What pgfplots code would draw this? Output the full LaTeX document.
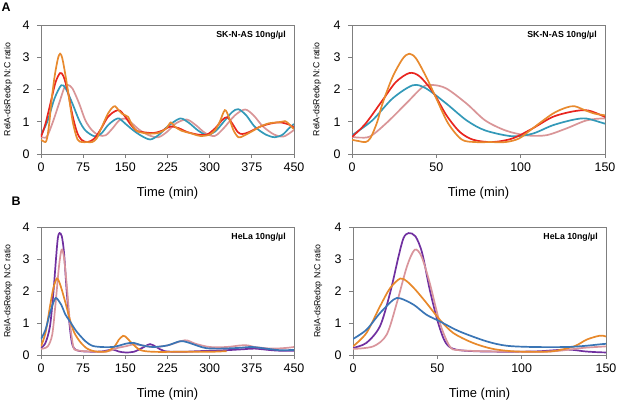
\documentclass[border=0pt]{standalone}
\usepackage{fontspec}
\setmainfont{Liberation Sans}
\usepackage{pgfplots}
\usepackage{pgfplotstable}
\pgfplotsset{compat=1.18}
\definecolor{aorange}{HTML}{E88A2E}
\definecolor{ared}{HTML}{E8251F}
\definecolor{ateal}{HTML}{3399B8}
\definecolor{apink}{HTML}{D99597}
\definecolor{bpurple}{HTML}{7030A0}
\definecolor{bpink}{HTML}{D9959C}
\definecolor{borange}{HTML}{E8892B}
\definecolor{bblue}{HTML}{3A75B5}
\definecolor{frame}{HTML}{7F7F7F}

\pgfplotstableread{
t v
0 0.44
4 0.40
8 0.37
11 0.5
15 1.0
18 1.55
24 2.38
30 2.95
34 3.11
38 2.96
44 2.39
50 1.72
57 0.95
65 0.45
73 0.37
82 0.37
91 0.37
99 0.48
107 0.79
119 1.25
127 1.44
132 1.48
138 1.36
144 1.25
150 1.2
155 1.15
162 0.9
170 0.72
180 0.66
195 0.63
210 0.66
222 0.78
231 0.98
238 0.85
250 0.72
265 0.65
283 0.56
300 0.6
310 0.75
318 1.0
327 1.36
334 1.15
342 0.75
351 0.52
360 0.56
375 0.7
390 0.85
405 0.95
420 0.98
428 1.0
434 1.02
440 0.95
448 0.8
450 0.78
}\Aorange
\pgfplotstableread{
t v
0 0.53
8 0.94
18 1.66
26 2.23
34 2.51
40 2.41
48 1.92
56 1.2
64 0.68
72 0.44
83 0.37
95 0.48
107 0.79
119 1.15
131 1.32
140 1.35
150 1.15
160 0.9
170 0.72
180 0.68
200 0.65
215 0.72
230 0.85
245 0.8
260 0.68
280 0.6
295 0.6
310 0.8
322 1.05
331 1.14
340 0.95
350 0.68
358 0.62
370 0.68
390 0.85
410 0.95
425 0.98
440 0.92
450 0.82
}\Ared
\pgfplotstableread{
t v
0 0.58
12 1.04
24 1.72
36 2.13
44 2.03
56 1.56
68 1.04
79 0.73
95 0.55
107 0.63
119 0.89
131 1.06
139 1.1
150 0.94
163 0.75
176 0.59
194 0.45
210 0.6
225 0.85
247 1.1
262 0.98
280 0.72
295 0.59
310 0.7
325 1.0
340 1.3
351 1.39
365 1.2
380 0.85
400 0.6
416 0.52
430 0.6
440 0.78
450 0.93
}\Ateal
\pgfplotstableread{
t v
0 0.53
10 0.53
20 0.94
32 1.56
42 2.08
48 2.14
56 2.03
68 1.56
79 1.04
91 0.73
103 0.58
115 0.58
127 0.79
139 1.04
150 1.1
160 0.98
175 0.75
192 0.58
209 0.52
225 0.7
240 0.95
259 1.07
275 0.9
292 0.65
309 0.56
325 0.8
345 1.2
363 1.38
378 1.2
395 0.85
415 0.6
431 0.54
445 0.68
450 0.75
}\Apink
\pgfplotstableread{
t v
0 0.22
8 0.38
16 0.9
22 1.94
27 3.08
30 3.66
33 3.81
37 3.71
41 3.19
45.5 2.04
50.5 1.0
55 0.38
61 0.17
77 0.11
107 0.11
127 0.17
138 0.11
150 0.08
165 0.1
180 0.22
194 0.34
205 0.25
220 0.12
250 0.1
280 0.12
300 0.13
330 0.15
360 0.18
380 0.2
410 0.15
430 0.13
450 0.13
}\Bpurple
\pgfplotstableread{
t v
0 0.19
12 0.27
20 0.64
26 1.63
32 2.77
36.6 3.29
40.6 3.08
45.5 2.25
51.5 1.0
57.4 0.27
63 0.15
87 0.11
117 0.11
136 0.22
150 0.27
165 0.33
180 0.3
200 0.25
225 0.3
256 0.46
275 0.35
300 0.25
330 0.25
355 0.3
368 0.3
380 0.25
410 0.2
435 0.22
450 0.25
}\Bpink
\pgfplotstableread{
t v
0 0.27
8 0.69
16 1.52
22 2.09
28 2.39
32 2.3
37 2.04
43.5 1.63
51.5 1.1
59.4 0.69
71 0.38
83 0.19
97 0.11
117 0.11
131 0.27
138.5 0.48
146 0.6
150 0.58
160 0.4
176 0.16
200 0.1
250 0.1
300 0.1
330 0.12
}\Borange
\pgfplotstableread{
t v
0 0.5
8 0.79
16 1.31
24 1.73
28 1.77
36 1.57
43.5 1.26
51.5 1.05
63 0.74
79 0.43
91 0.29
107 0.25
127 0.25
138.5 0.29
150 0.35
164 0.38
180 0.3
200 0.25
225 0.3
247 0.43
260 0.4
280 0.28
295 0.21
320 0.2
350 0.22
375 0.25
400 0.2
425 0.15
450 0.16
}\Bblue

\pgfplotsset{
  panel/.style={
    scale only axis, width=253bp, height=129bp,
    anchor=south west,
    ymin=0, ymax=4, ytick={0,1,2,3,4},
    axis line style={frame, line width=0.9bp},
    tick style={frame, line width=0.9bp},
    tick align=outside, major tick length=4bp,
    xtick pos=left, ytick pos=left,
    tick label style={font=\fontsize{12.5}{14}\selectfont},
    yticklabel style={xshift=-4bp},
    xticklabel style={yshift=-1.5bp},
    /pgf/number format/assume math mode=true,
    xlabel={Time (min)},
    xlabel style={font=\fontsize{13}{15}\selectfont, at={(axis description cs:0.5,0)}, anchor=center, yshift=-39bp},
    ylabel={RelA-dsRedxp N:C ratio},
    ylabel style={font=\fontsize{8.8}{10}\selectfont, at={(axis description cs:-0.1304,0.5)}, anchor=center},
    every axis plot/.append style={smooth, line width=1.7bp, no marks},
  },
  wide/.style={xmin=0, xmax=450, xtick={0,75,150,225,300,375,450}},
  narrow/.style={xmin=0, xmax=150, xtick={0,50,100,150},
    ylabel style={at={(axis description cs:-0.138,0.5)}}},
}
\newcommand{\tag}[1]{\node[anchor=north east, inner sep=0pt, font=\bfseries\fontsize{8.8}{10}\selectfont] at (rel axis cs:0.968,0.955) {#1};}

\begin{document}
\begin{tikzpicture}
\path[use as bounding box] (0,0) rectangle (617bp,405bp);
\node[font=\bfseries\fontsize{12.5}{15}\selectfont] at (6bp,397.5bp) {A};
\node[font=\bfseries\fontsize{12.5}{15}\selectfont] at (16bp,203.5bp) {B};

% A left
\begin{axis}[panel, wide, at={(41bp,251bp)}]
\addplot[apink] table {\Apink};
\addplot[ateal] table {\Ateal};
\addplot[ared] table {\Ared};
\addplot[aorange] table {\Aorange};
\tag{SK-N-AS 10ng/µl}
\end{axis}
% A right
\begin{axis}[panel, narrow, at={(352bp,251bp)}]
\addplot[apink] table {\Apink};
\addplot[ateal] table {\Ateal};
\addplot[ared] table {\Ared};
\addplot[aorange] table {\Aorange};
\tag{SK-N-AS 10ng/µl}
\end{axis}
% B left
\begin{axis}[panel, wide, height=128bp, at={(41bp,50bp)}]
\addplot[bpurple] table {\Bpurple};
\addplot[bpink] table {\Bpink};
\addplot[borange] table {\Borange};
\addplot[bblue] table {\Bblue};
\tag{HeLa 10ng/µl}
\end{axis}
% B right
\begin{axis}[panel, narrow, height=128bp, at={(353bp,50bp)}]
\addplot[bpurple] table {\Bpurple};
\addplot[bpink] table {\Bpink};
\addplot[borange] table {\Borange};
\addplot[bblue] table {\Bblue};
\tag{HeLa 10ng/µl}
\end{axis}
\end{tikzpicture}
\end{document}
